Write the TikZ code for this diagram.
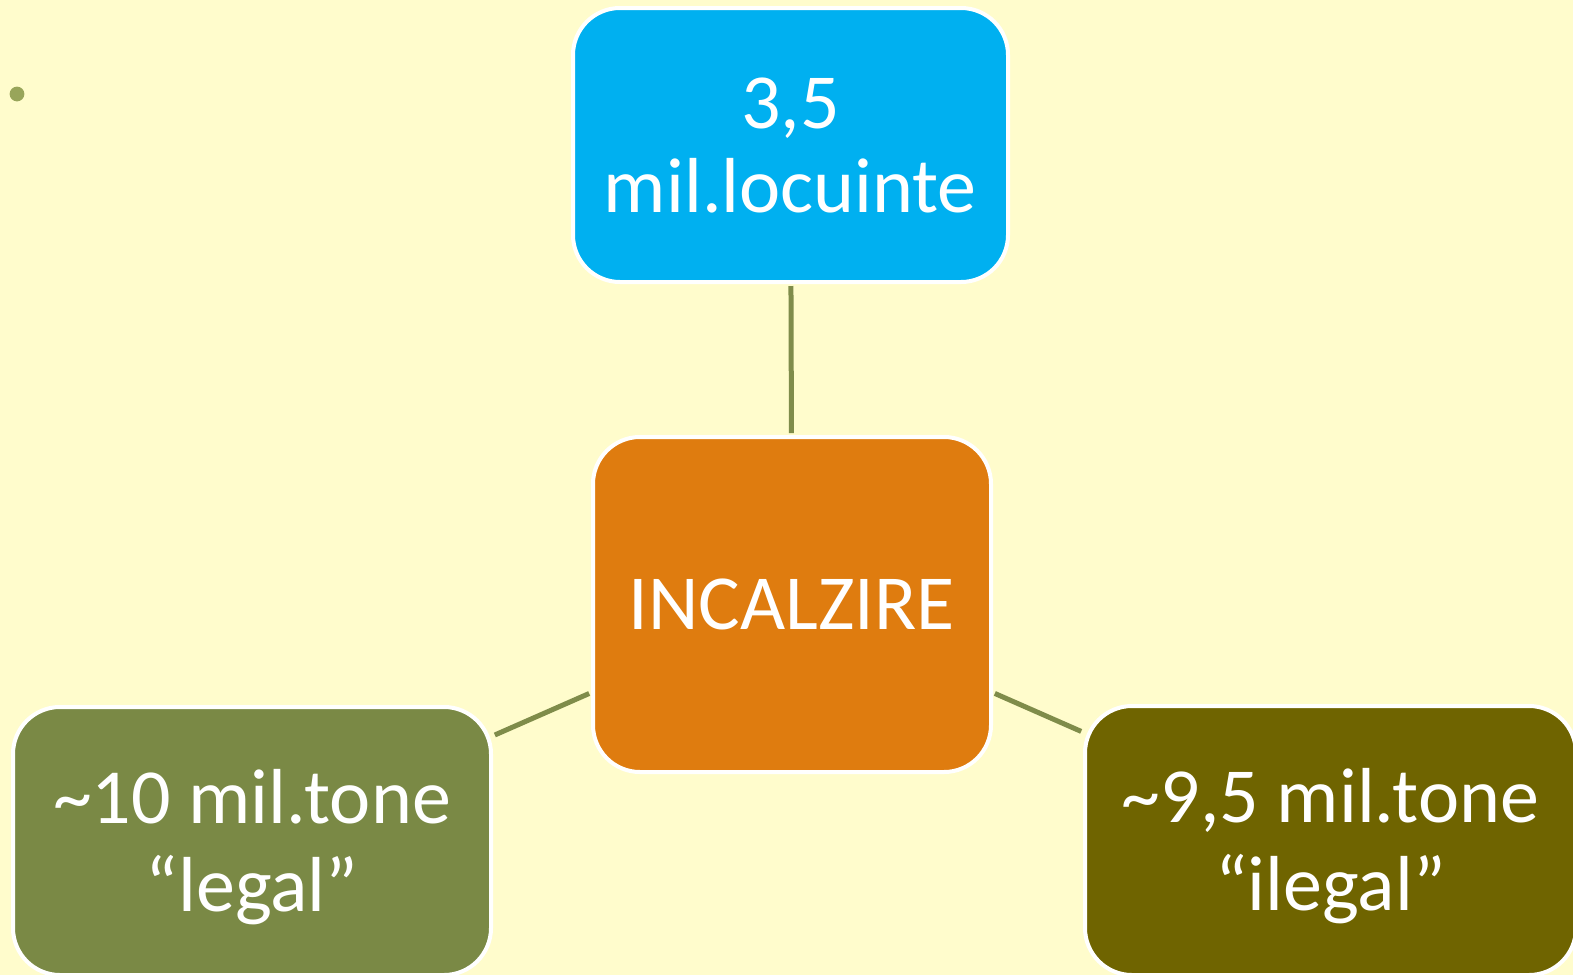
\documentclass[tikz,border=0pt]{standalone}
\usepackage{fontspec}
\setmainfont{Carlito}
\definecolor{bgyellow}{HTML}{FFFCCC}
\definecolor{topblue}{HTML}{00B0F0}
\definecolor{midorange}{HTML}{DF7C0F}
\definecolor{leftgreen}{HTML}{7A8945}
\definecolor{rightolive}{HTML}{6F6400}
\definecolor{linkgreen}{HTML}{7F8C4A}
\definecolor{bulletgreen}{HTML}{98A55A}
\tikzset{
  box/.style={rectangle, rounded corners=23.5pt, draw=white, line width=2pt,
    text=white, align=center, inner sep=0pt,
    font=\fontsize{39}{42}\selectfont},
  lowbox/.style={box, font=\fontsize{39}{44}\selectfont},
  link/.style={draw=linkgreen, line width=2.5pt, shorten <=1pt, shorten >=1pt}
}
\begin{document}
\begin{tikzpicture}[x=0.5pt,y=-0.5pt]
\fill[bgyellow] (0,0) rectangle (1573,975);
\useasboundingbox (0,0) rectangle (1573,975);
\fill[bulletgreen] (17,94) circle[radius=3.7pt];
\node[box, fill=topblue, minimum width=217.5pt, minimum height=137pt] (top) at (790.5,145) {3,5\\mil.locuinte};
\node[box, fill=midorange, minimum width=199pt, minimum height=167.5pt] (mid) at (792,604.5) {INCALZIRE};
\node[lowbox, fill=leftgreen, minimum width=239pt, minimum height=134pt] (left) at (252,841) {\rule{0pt}{33pt}\textasciitilde10 mil.tone\\“legal”};
\node[lowbox, fill=rightolive, minimum width=245.5pt, minimum height=134.5pt] (right) at (1330.5,840.5) {\rule{0pt}{33pt}\textasciitilde9,5 mil.tone\\“ilegal”};
\draw[link] (mid) -- (top);
\draw[link] (mid) -- (left);
\draw[link] (mid) -- (right);
\end{tikzpicture}
\end{document}
